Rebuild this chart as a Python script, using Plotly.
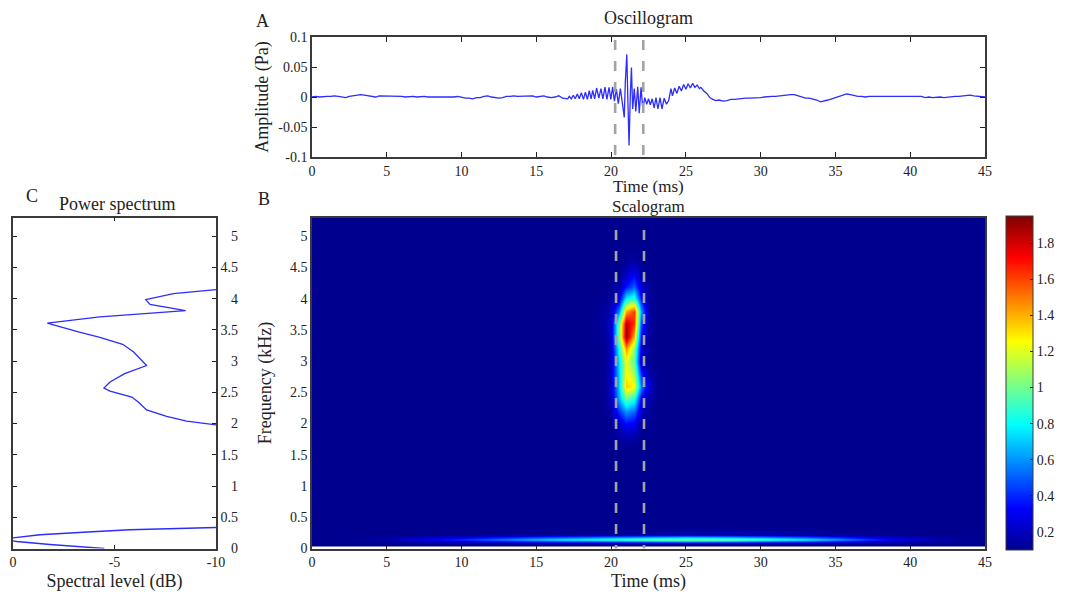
import plotly.graph_objects as go

# The page keeps an 8 px body margin, so layout pixels are mapped through this offset.
OFFSET = 8
W, H = 1070 - OFFSET, 592 - OFFSET
FONT = "Liberation Serif"
INK = "#222222"
FRAME = "#3a3a3a"
BLUE = "#2c2cff"
DASH = "#a3a3a3"

# ---------- Oscillogram ----------
quiet_before = [
    0.000, 0.001, 0.000, 0.001, 0.001, 0.001, 0.002, 0.001, 0.000, -0.001, 0.001, 0.002,
    0.003, 0.004, 0.003, 0.002, 0.001, 0.000, 0.002, 0.002, 0.001, 0.001, 0.002, 0.001,
    0.001, 0.000, 0.001, 0.001, 0.000, 0.001, 0.001, 0.000, 0.000, -0.001, -0.001, 0.000,
    0.000, -0.001, 0.000, 0.001, -0.001, -0.002, -0.002, -0.003, -0.001, -0.001, 0.001, 0.002,
    0.000, -0.001, -0.002, -0.001, 0.001, 0.001, 0.002, 0.001, 0.001, 0.002, 0.001, 0.002,
    0.000, 0.001, 0.002, 0.000, -0.001, 0.000, 0.002, -0.002,
]
burst_time = [
    17.0, 17.1, 17.2, 17.34, 17.47, 17.6, 17.74, 17.87, 18.01, 18.15, 18.28, 18.41, 18.54, 18.66,
    18.77, 18.9, 19.03, 19.18, 19.32, 19.45, 19.59, 19.72, 19.86, 19.98, 20.1, 20.22, 20.35, 20.48,
    20.62, 20.75, 20.88, 20.95, 21.05, 21.12, 21.2, 21.28, 21.36, 21.44, 21.55, 21.65, 21.78, 21.88,
    22.0, 22.12, 22.25, 22.38, 22.5, 22.62, 22.75, 22.88, 23.0, 23.13, 23.27, 23.4, 23.55, 23.7,
    23.85, 24.0, 24.1, 24.25, 24.4, 24.55, 24.7, 24.85, 25.0, 25.15, 25.3, 25.45, 25.6, 25.75,
    25.9, 26.0, 26.2, 26.4, 26.6, 26.8, 27.0, 27.2, 27.5, 27.75,
]
burst_amp = [
    -0.002, -0.003, 0.001, -0.003, 0.003, -0.003, 0.005, -0.003, 0.007, -0.004, 0.008, -0.004, 0.0105, -0.003,
    0.011, -0.003, 0.015, -0.002, 0.014, -0.003, 0.0165, -0.004, 0.016, -0.004, 0.017, -0.007, 0.013, -0.011,
    0.014, -0.013, -0.034, 0.025, 0.071, -0.005, -0.081, 0.000, 0.049, -0.020, 0.014, -0.024, 0.017, -0.027,
    0.016, -0.020, -0.001, -0.012, -0.003, -0.013, -0.003, -0.018, -0.001, -0.020, -0.001, -0.020, -0.002, -0.012,
    -0.006, 0.014, 0.002, 0.015, 0.006, 0.018, 0.010, 0.021, 0.013, 0.022, 0.015, 0.023, 0.016, 0.020,
    0.014, 0.016, 0.010, 0.006, -0.001, -0.004, -0.006, -0.005, -0.007, -0.006,
]
quiet_after = [
    -0.004, -0.004, -0.003, -0.003, -0.002, -0.002, -0.002, -0.001, -0.001, 0.000, 0.001, 0.001,
    0.001, 0.002, 0.002, 0.003, 0.004, 0.004, 0.002, 0.000, -0.002, -0.002, -0.003, -0.005,
    -0.008, -0.007, -0.005, -0.003, -0.001, 0.001, 0.003, 0.005, 0.004, 0.002, 0.001, 0.001,
    0.000, 0.001, 0.001, 0.000, 0.001, 0.001, 0.000, 0.001, 0.001, 0.000, 0.001, 0.001,
    0.001, 0.001, 0.000, 0.001, -0.001, 0.000, -0.001, 0.000, 0.000, -0.001, 0.000, 0.001,
    0.001, 0.001, 0.002, 0.002, 0.003, 0.002, 0.001, 0.001, 0.000,
]
osc_time = [k * 0.25 for k in range(len(quiet_before))] + burst_time + [28.0 + k * 0.25 for k in range(len(quiet_after))]
osc_amp = quiet_before + burst_amp + quiet_after

# ---------- Selection window (dashed markers) ----------
window_a = [20.27, 22.15]
window_b = [20.33, 22.2]
window_a_span = [0.095, -0.098]
window_b_span = [5.1, -0.06]

# ---------- Scalogram: low-frequency band ----------
band_time = [0, 3, 5, 10, 15, 20, 23, 25, 28, 30, 33, 35, 38, 40, 43, 45]
band_freq = [0.05, 0.08, 0.115, 0.15, 0.185, 0.225, 0.26, 0.295, 0.4, 5.3]
band_z = [
    [0.10, 0.10, 0.10, 0.10, 0.10, 0.10, 0.10, 0.10, 0.10, 0.10, 0.10, 0.10, 0.10, 0.10, 0.10, 0.10],
    [0.10, 0.10, 0.10, 0.10, 0.11, 0.12, 0.12, 0.12, 0.12, 0.12, 0.11, 0.11, 0.10, 0.10, 0.10, 0.10],
    [0.10, 0.10, 0.12, 0.22, 0.36, 0.48, 0.56, 0.60, 0.56, 0.50, 0.40, 0.32, 0.20, 0.15, 0.11, 0.10],
    [0.10, 0.12, 0.17, 0.42, 0.70, 0.92, 1.02, 1.05, 1.02, 0.95, 0.80, 0.65, 0.38, 0.26, 0.14, 0.11],
    [0.10, 0.10, 0.12, 0.22, 0.36, 0.48, 0.56, 0.60, 0.56, 0.50, 0.40, 0.32, 0.20, 0.15, 0.11, 0.10],
    [0.10, 0.10, 0.10, 0.10, 0.11, 0.12, 0.13, 0.13, 0.13, 0.13, 0.12, 0.11, 0.10, 0.10, 0.10, 0.10],
    [0.10, 0.10, 0.10, 0.10, 0.10, 0.11, 0.15, 0.18, 0.20, 0.19, 0.15, 0.11, 0.10, 0.10, 0.10, 0.10],
    [0.10, 0.10, 0.10, 0.10, 0.10, 0.10, 0.11, 0.11, 0.12, 0.11, 0.11, 0.10, 0.10, 0.10, 0.10, 0.10],
    [0.10, 0.10, 0.10, 0.10, 0.10, 0.10, 0.10, 0.10, 0.10, 0.10, 0.10, 0.10, 0.10, 0.10, 0.10, 0.10],
    [0.10, 0.10, 0.10, 0.10, 0.10, 0.10, 0.10, 0.10, 0.10, 0.10, 0.10, 0.10, 0.10, 0.10, 0.10, 0.10],
]

# ---------- Scalogram: main energy patch ----------
blob_time = [18.5, 19, 19.5, 20, 20.5, 21, 21.5, 22, 22.5, 23, 23.5]
blob_freq = [1.6, 1.8, 2.0, 2.2, 2.4, 2.6, 2.8, 3.0, 3.2, 3.4, 3.6, 3.8, 4.0, 4.2, 4.4, 4.6, 4.8]
blob_z = [
    [0.10, 0.10, 0.10, 0.10, 0.10, 0.10, 0.10, 0.10, 0.10, 0.10, 0.10],
    [0.10, 0.10, 0.10, 0.11, 0.14, 0.17, 0.16, 0.11, 0.10, 0.10, 0.10],
    [0.10, 0.10, 0.10, 0.12, 0.22, 0.34, 0.30, 0.14, 0.11, 0.10, 0.10],
    [0.10, 0.10, 0.10, 0.15, 0.42, 0.60, 0.52, 0.21, 0.12, 0.10, 0.10],
    [0.10, 0.10, 0.11, 0.20, 0.65, 0.98, 0.85, 0.32, 0.16, 0.11, 0.10],
    [0.10, 0.10, 0.11, 0.22, 0.72, 1.35, 1.25, 0.55, 0.24, 0.12, 0.10],
    [0.10, 0.10, 0.11, 0.22, 0.72, 1.25, 1.10, 0.40, 0.15, 0.11, 0.10],
    [0.10, 0.10, 0.11, 0.20, 0.75, 1.22, 0.95, 0.20, 0.11, 0.10, 0.10],
    [0.10, 0.10, 0.11, 0.20, 0.85, 1.45, 1.05, 0.25, 0.11, 0.10, 0.10],
    [0.10, 0.11, 0.12, 0.22, 1.05, 1.90, 1.40, 0.35, 0.12, 0.10, 0.10],
    [0.10, 0.12, 0.14, 0.22, 1.02, 1.85, 1.62, 0.45, 0.13, 0.10, 0.10],
    [0.10, 0.11, 0.14, 0.18, 0.60, 1.42, 1.62, 0.60, 0.13, 0.10, 0.10],
    [0.10, 0.10, 0.11, 0.13, 0.27, 0.78, 0.88, 0.35, 0.12, 0.10, 0.10],
    [0.10, 0.10, 0.10, 0.11, 0.15, 0.36, 0.50, 0.23, 0.11, 0.10, 0.10],
    [0.10, 0.10, 0.10, 0.10, 0.11, 0.21, 0.30, 0.15, 0.10, 0.10, 0.10],
    [0.10, 0.10, 0.10, 0.10, 0.10, 0.12, 0.15, 0.11, 0.10, 0.10, 0.10],
    [0.10, 0.10, 0.10, 0.10, 0.10, 0.10, 0.10, 0.10, 0.10, 0.10, 0.10],
]
jet = [
    [0.0, "#00008f"], [0.125, "#0000ff"], [0.375, "#00ffff"],
    [0.625, "#ffff00"], [0.875, "#ff0000"], [1.0, "#800000"],
]
cbar_ticks = [0.2, 0.4, 0.6, 0.8, 1.0, 1.2, 1.4, 1.6, 1.8]
cbar_text = ["0.2", "0.4", "0.6", "0.8", "1", "1.2", "1.4", "1.6", "1.8"]

# ---------- Power spectrum ----------
spec_level = [
    0.3, -0.18, -1.82, -3.45, -4.5, None,
    0.0, -1.33, -3.46, -5.75, -10.0, None,
    -10.0, -8.55, -7.57, -6.58, -6.17, -5.85, -4.78, -4.48, -4.78, -5.5, -6.58, -5.93, -5.4, -4.28, -3.22,
    -1.69, -4.28, -7.07, -8.5, -6.75, -6.54, -7.9, -10.0,
]
spec_freq = [
    0.14, 0.112, 0.064, 0.032, 0.0, None,
    0.17, 0.22, 0.26, 0.30, 0.336, None,
    1.98, 2.04, 2.115, 2.22, 2.345, 2.425, 2.52, 2.57, 2.665, 2.8, 2.93, 3.15, 3.27, 3.38, 3.47,
    3.61, 3.71, 3.77, 3.81, 3.91, 3.986, 4.08, 4.146,
]

# ---------- Axis ticks ----------
time_ticks = [0, 5, 10, 15, 20, 25, 30, 35, 40, 45]
amp_ticks = [0.1, 0.05, 0, -0.05, -0.1]
amp_text = ["0.1", "0.05", "0", "-0.05", "-0.1"]
freq_ticks = [0, 0.5, 1, 1.5, 2, 2.5, 3, 3.5, 4, 4.5, 5]
freq_text = ["0", "0.5", "1", "1.5", "2", "2.5", "3", "3.5", "4", "4.5", "5"]
pad = "\u2007\u2008"
freq_text_right = [pad + "0", "0.5", pad + "1", "1.5", pad + "2", "2.5", pad + "3", "3.5", pad + "4", "4.5", pad + "5"]
level_ticks = [0, -5, -10]
level_text = ["0", "-5", "-10"]


def fx(px):
    return (px - OFFSET) / W


def fy(px):
    return 1 - (px - OFFSET) / H


def xdom(a, b):
    return [fx(a), fx(b)]


def ydom(top, bottom):
    return [fy(bottom), fy(top)]


fig = go.Figure()

# Panel A
fig.add_trace(go.Scatter(x=osc_time, y=osc_amp, mode="lines", line=dict(color=BLUE, width=1.3),
                         xaxis="x", yaxis="y", showlegend=False))
for t in window_a:
    fig.add_trace(go.Scatter(x=[t, t], y=window_a_span, mode="lines", xaxis="x", yaxis="y", showlegend=False,
                             line=dict(color=DASH, width=2.6, dash="10px,11px"), cliponaxis=False))

# Panel B
fig.add_trace(go.Heatmap(x=band_time, y=band_freq, z=band_z, coloraxis="coloraxis", zsmooth="best",
                         xaxis="x2", yaxis="y2"))
fig.add_trace(go.Heatmap(x=blob_time, y=blob_freq, z=blob_z, coloraxis="coloraxis", zsmooth="best",
                         xaxis="x2", yaxis="y2"))
for t in window_b:
    fig.add_trace(go.Scatter(x=[t, t], y=window_b_span, mode="lines", xaxis="x2", yaxis="y2", showlegend=False,
                             line=dict(color=DASH, width=2.6, dash="10px,11px"), cliponaxis=False))

# Panel C
fig.add_trace(go.Scatter(x=spec_level, y=spec_freq, mode="lines", line=dict(color=BLUE, width=1.3),
                         xaxis="x3", yaxis="y3", showlegend=False, connectgaps=False))

tick_font = dict(family=FONT, size=14, color=INK)
title_font = dict(family=FONT, size=18, color=INK)
axis_common = dict(showgrid=False, zeroline=False, showline=True, linecolor=FRAME, linewidth=1.5,
                   tickfont=tick_font, tickcolor="#222222", tickwidth=1, automargin=False)

fig.update_layout(
    width=W, height=H, margin=dict(l=0, r=0, t=0, b=0, autoexpand=False),
    paper_bgcolor="white", plot_bgcolor="white", showlegend=False,
    font=dict(family=FONT, color=INK),
    xaxis=dict(domain=xdom(312, 985), range=[0, 45], tickvals=time_ticks, ticks="inside", ticklen=5, mirror="ticks",
               anchor="y", **axis_common),
    yaxis=dict(domain=ydom(37, 157), range=[-0.1, 0.1], tickvals=amp_ticks, ticktext=amp_text, ticks="inside",
               ticklen=5, mirror="ticks", title=dict(text="Amplitude (Pa)", font=title_font, standoff=5),
               anchor="x", **axis_common),
    xaxis2=dict(domain=xdom(312, 985), range=[0, 45], tickvals=time_ticks, ticks="inside", ticklen=3, mirror=True,
                title=dict(text="Time (ms)", font=title_font, standoff=6), anchor="y2", **axis_common),
    yaxis2=dict(domain=ydom(217.5, 548.5), range=[0, 5.3], tickvals=freq_ticks, ticktext=freq_text, ticks="",
                mirror=True, title=dict(text="Frequency (kHz)", font=title_font, standoff=14),
                anchor="x2", **axis_common),
    xaxis3=dict(domain=xdom(13, 216), range=[0, -10], tickvals=level_ticks, ticktext=level_text, ticks="inside",
                ticklen=4, mirror="ticks", title=dict(text="Spectral level (dB)", font=title_font, standoff=5),
                anchor="y3", **axis_common),
    yaxis3=dict(domain=ydom(217.5, 548.5), range=[0, 5.3], tickvals=freq_ticks, ticktext=freq_text_right,
                ticks="inside", ticklen=4, mirror="ticks", side="right", anchor="x3", **axis_common),
    coloraxis=dict(
        cmin=0.1, cmax=1.95, colorscale=jet,
        colorbar=dict(x=fx(1006), xanchor="left", xpad=0, y=fy(383), yanchor="middle", ypad=0,
                      thicknessmode="pixels", thickness=27, lenmode="pixels", len=334,
                      tickvals=cbar_ticks, ticktext=cbar_text, ticks="inside", ticklen=3, tickcolor="#222222",
                      tickfont=dict(family=FONT, size=14, color=INK), outlinecolor=FRAME, outlinewidth=1),
    ),
)


def label(text, x, y, size=18):
    fig.add_annotation(text=text, x=fx(x), y=fy(y), xref="paper", yref="paper", showarrow=False,
                       xanchor="center", yanchor="middle", font=dict(family=FONT, size=size, color=INK))


label("A", 262, 21)
label("Oscillogram", 648, 18)
label("Time (ms)", 648, 187, size=17)
label("B", 264, 199)
label("Scalogram", 648, 207, size=17)
label("C", 32, 196)
label("Power spectrum", 117, 204)

fig.write_html("out.html")
